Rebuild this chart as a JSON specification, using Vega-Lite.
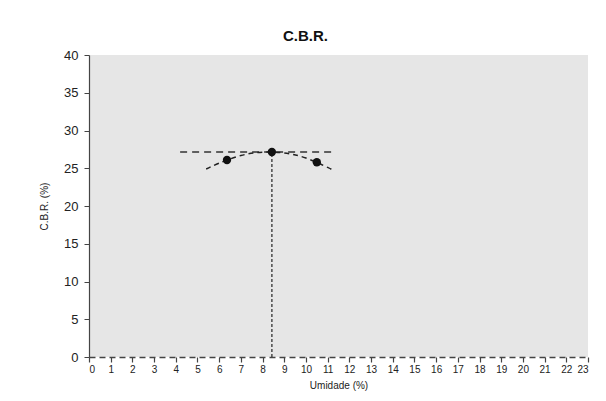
{
  "$schema": "https://vega.github.io/schema/vega-lite/v6.json",
  "autosize": "none",
  "width": 499,
  "height": 302,
  "padding": {"left": 89, "top": 55, "right": 18, "bottom": 44},
  "background": "white",
  "title": {"text": "C.B.R.", "font": "Liberation Sans", "fontSize": 15, "fontWeight": "bold", "color": "#111", "anchor": "middle", "dx": -33, "offset": 5},
  "config": {"view": {"stroke": null, "fill": "#e6e6e6"}},
  "datasets": {
    "points": [
      {"u": 6.36, "c": 26.1},
      {"u": 8.43, "c": 27.15},
      {"u": 10.5, "c": 25.8}
    ],
    "curve": [
      {"u": 5.4, "c": 24.9},
      {"u": 6.0, "c": 25.67},
      {"u": 7.0, "c": 26.68},
      {"u": 8.0, "c": 27.13},
      {"u": 9.0, "c": 27.02},
      {"u": 10.0, "c": 26.35},
      {"u": 11.0, "c": 25.11},
      {"u": 11.2, "c": 24.8}
    ],
    "hline": [{"u": 4.2, "u2": 11.2, "c": 27.15}],
    "vline": [{"u": 8.43, "c": 0, "c2": 27.15}]
  },
  "encoding": {
    "x": {"field": "u", "type": "quantitative", "scale": {"domain": [0, 23], "nice": false},
      "axis": {"title": "Umidade (%)", "values": [0,1,2,3,4,5,6,7,8,9,10,11,12,13,14,15,16,17,18,19,20,21,22,23],
        "labelOverlap": false, "grid": false, "domainDash": [6, 4], "domainColor": "#444", "domainWidth": 1.5, "tickColor": "#444", "tickSize": 5, "tickWidth": 1.2,
        "labelFont": "Liberation Sans", "labelFontSize": 10, "labelColor": "#222", "labelPadding": 2,
        "titleFont": "Liberation Sans", "titleFontSize": 10, "titleFontWeight": "normal", "titleColor": "#222", "titlePadding": 6}},
    "y": {"field": "c", "type": "quantitative", "scale": {"domain": [0, 40], "nice": false},
      "axis": {"title": "C.B.R. (%)", "values": [0,5,10,15,20,25,30,35,40], "labelOverlap": false, "grid": false,
        "domainColor": "#444", "domainWidth": 1.2, "tickColor": "#444", "tickSize": 5,
        "labelFont": "Liberation Sans", "labelFontSize": 13, "labelColor": "#222", "labelPadding": 6,
        "titleFont": "Liberation Sans", "titleFontSize": 10, "titleFontWeight": "normal", "titleColor": "#222", "titlePadding": 14}}
  },
  "layer": [
    {
      "data": {"name": "hline"},
      "mark": {"type": "rule", "color": "#333", "strokeWidth": 1.3, "strokeDash": [7, 5]},
      "encoding": {"x2": {"field": "u2"}}
    },
    {
      "data": {"name": "vline"},
      "mark": {"type": "rule", "color": "#333", "strokeWidth": 1.3, "strokeDash": [3, 2]},
      "encoding": {"y2": {"field": "c2"}}
    },
    {
      "data": {"name": "curve"},
      "mark": {"type": "line", "interpolate": "natural", "color": "#222", "strokeWidth": 1.5, "strokeDash": [5, 4]},
      "encoding": {}
    },
    {
      "data": {"name": "points"},
      "mark": {"type": "point", "filled": true, "color": "#111", "opacity": 1, "size": 70},
      "encoding": {}
    }
  ]
}
